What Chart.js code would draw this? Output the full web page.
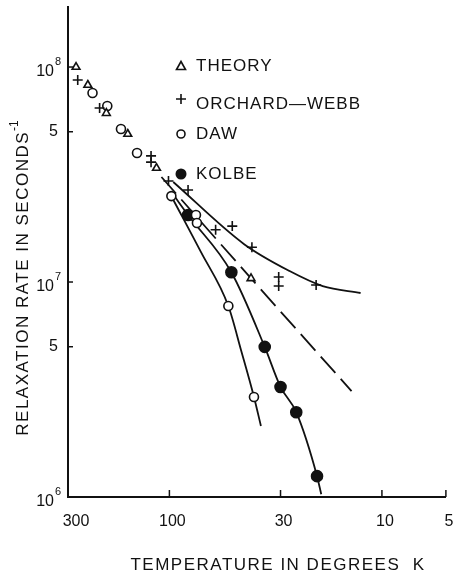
<!DOCTYPE html>
<html>
<head>
<meta charset="utf-8">
<script src="https://cdn.jsdelivr.net/npm/chart.js@4.4.1/dist/chart.umd.min.js"></script>
<style>
  body { margin: 0; background: #fff; }
  canvas { display: block; }
</style>
</head>
<body>
<canvas id="myChart" width="453" height="577"></canvas>
<script>
// values (temperature in K, rate in s^-1)
const theoryT = [275, 242, 198, 157, 115, 41.3];
const theoryRate = [1.0e8, 8.25e7, 6.1e7, 4.88e7, 3.39e7, 1.04e7];
const theoryLineT = [109, 41.3, 13.9];
const theoryLineRate = [3.08e7, 1.04e7, 3.11e6];

const owT = [270, 213, 122, 122, 101, 81.7, 60.6, 50.6, 40.9, 30.6, 30.6, 20.4];
const owRate = [8.7e7, 6.45e7, 3.86e7, 3.61e7, 2.95e7, 2.68e7, 1.75e7, 1.82e7, 1.45e7, 1.055e7, 9.58e6, 9.68e6];
const owCurveT = [95.9, 44.5, 27.2, 19.0, 12.6];
const owCurveRate = [2.92e7, 1.50e7, 1.125e7, 9.58e6, 8.89e6];

const dawT = [230, 196, 169, 142, 97.9, 75.0, 74.2, 52.8, 40.0];
const dawRate = [7.57e7, 6.59e7, 5.15e7, 3.98e7, 2.51e7, 2.05e7, 1.88e7, 7.73e6, 2.92e6];
const dawCurveT = [96.9, 71.1, 52.8, 45.9, 40.0, 37.1];
const dawCurveRate = [2.46e7, 1.38e7, 7.73e6, 4.78e6, 2.92e6, 2.14e6];

const kolbeT = [81.7, 51.1, 35.6, 30.0, 25.3, 20.2];
const kolbeRate = [2.05e7, 1.11e7, 4.99e6, 3.25e6, 2.48e6, 1.25e6];
const kolbeCurveT = [94.8, 81.7, 51.1, 35.6, 30.0, 25.3, 20.2, 19.3];
const kolbeCurveRate = [2.51e7, 2.05e7, 1.11e7, 4.99e6, 3.25e6, 2.48e6, 1.25e6, 1.03e6];

const xTicks = [300, 100, 30, 10, 5];
const yTicks = [1e6, 5e6, 1e7, 5e7, 1e8];
const yTickBase = ["10", "5", "10", "5", "10"];
const yTickExp = ["6", "", "7", "", "8"];

const legendLabels = ["THEORY", "ORCHARD\u2014WEBB", "DAW", "KOLBE"];

const INK = "#111";
const FONT = "'Liberation Sans', Arial, sans-serif";

const pts = (xs, ys) => xs.map((v, i) => ({ x: v, y: ys[i] }));

function drawMarker(ctx, kind, x, y) {
  ctx.save();
  ctx.strokeStyle = INK;
  ctx.lineWidth = 1.6;
  ctx.beginPath();
  if (kind === "triangle") {
    ctx.moveTo(x, y - 4.5);
    ctx.lineTo(x + 4.5, y + 3.5);
    ctx.lineTo(x - 4.5, y + 3.5);
    ctx.closePath();
    ctx.fillStyle = "#fff";
    ctx.fill();
    ctx.stroke();
  } else if (kind === "cross") {
    ctx.moveTo(x - 5, y); ctx.lineTo(x + 5, y);
    ctx.moveTo(x, y - 5); ctx.lineTo(x, y + 5);
    ctx.stroke();
  } else if (kind === "open") {
    ctx.arc(x, y, 4, 0, Math.PI * 2);
    ctx.fillStyle = "#fff";
    ctx.fill();
    ctx.stroke();
  } else {
    ctx.arc(x, y, 5.5, 0, Math.PI * 2);
    ctx.fillStyle = INK;
    ctx.fill();
  }
  ctx.restore();
}

const figureText = {
  id: "figureText",
  afterDraw(chart) {
    const { ctx, chartArea, scales: { x, y } } = chart;
    ctx.save();
    ctx.strokeStyle = INK;
    ctx.fillStyle = INK;
    ctx.lineWidth = 1.5;

    // inward tick marks
    xTicks.forEach(v => {
      if (v === 300) return;
      const px = x.getPixelForValue(v);
      ctx.beginPath();
      ctx.moveTo(px, chartArea.bottom);
      ctx.lineTo(px, chartArea.bottom - 7);
      ctx.stroke();
    });
    yTicks.forEach(v => {
      if (v === 1e6) return;
      const py = y.getPixelForValue(v);
      ctx.beginPath();
      ctx.moveTo(chartArea.left, py);
      ctx.lineTo(chartArea.left + 5, py);
      ctx.stroke();
    });

    // x tick labels
    ctx.font = "16px " + FONT;
    ctx.textAlign = "center";
    ctx.textBaseline = "middle";
    xTicks.forEach(v => {
      const px = x.getPixelForValue(v);
      ctx.fillText(String(v), px + (v === 300 ? 8 : 3), chartArea.bottom + 25);
    });

    // y tick labels with superscripts
    yTicks.forEach((v, i) => {
      const py = y.getPixelForValue(v);
      if (yTickExp[i]) {
        ctx.font = "16px " + FONT;
        ctx.textAlign = "right";
        ctx.fillText(yTickBase[i], 54, py + 5);
        ctx.font = "11px " + FONT;
        ctx.textAlign = "left";
        ctx.fillText(yTickExp[i], 55, py - 5);
      } else {
        ctx.font = "16px " + FONT;
        ctx.textAlign = "right";
        ctx.fillText(yTickBase[i], 58, py);
      }
    });

    // axis titles
    ctx.font = "17px " + FONT;
    ctx.letterSpacing = "1.5px";
    ctx.textAlign = "center";
    ctx.fillText("TEMPERATURE IN DEGREES  K", 278, 565);

    ctx.save();
    ctx.translate(23, 278);
    ctx.rotate(-Math.PI / 2);
    ctx.textAlign = "left";
    const main = "RELAXATION RATE IN SECONDS";
    const wMain = ctx.measureText(main).width;
    ctx.font = "12px " + FONT;
    ctx.letterSpacing = "0px";
    const sup = "-1";
    const wSup = ctx.measureText(sup).width;
    const start = -(wMain + wSup) / 2;
    ctx.font = "17px " + FONT;
    ctx.letterSpacing = "1.5px";
    ctx.fillText(main, start, 0);
    ctx.font = "12px " + FONT;
    ctx.letterSpacing = "0px";
    ctx.fillText(sup, start + wMain, -8);
    ctx.restore();

    // legend
    const kinds = ["triangle", "cross", "open", "filled"];
    const markY = [66, 99, 134, 174];
    const textY = [66, 104, 134, 174];
    ctx.font = "17px " + FONT;
    ctx.letterSpacing = "1px";
    ctx.textAlign = "left";
    legendLabels.forEach((lab, i) => {
      drawMarker(ctx, kinds[i], 181, markY[i]);
      ctx.fillText(lab, 196, textY[i]);
    });
    ctx.restore();
  }
};

const curve = (data, dash) => ({
  data,
  showLine: true,
  borderColor: INK,
  borderWidth: 1.8,
  borderDash: dash || [],
  pointRadius: 0,
  cubicInterpolationMode: "monotone",
  order: 2
});

const marks = (data, style, fill, radius) => ({
  data,
  pointStyle: style,
  pointRadius: radius,
  pointBackgroundColor: fill,
  pointBorderColor: INK,
  pointBorderWidth: 1.6,
  order: 1
});

const ctx = document.getElementById("myChart").getContext("2d");

new Chart(ctx, {
  type: "scatter",
  data: {
    datasets: [
      marks(pts(theoryT, theoryRate), "triangle", "#fff", 4.5),
      marks(pts(owT, owRate), "cross", "#fff", 5),
      marks(pts(dawT, dawRate), "circle", "#fff", 4.5),
      marks(pts(kolbeT, kolbeRate), "circle", INK, 5.5),
      curve(pts(theoryLineT, theoryLineRate), [22, 8]),
      curve(pts(owCurveT, owCurveRate)),
      curve(pts(dawCurveT, dawCurveRate)),
      curve(pts(kolbeCurveT, kolbeCurveRate))
    ]
  },
  options: {
    responsive: false,
    animation: false,
    layout: { padding: { left: 68, right: 1, top: 7, bottom: 80 } },
    plugins: {
      legend: { display: false },
      tooltip: { enabled: false }
    },
    scales: {
      x: {
        type: "logarithmic",
        reverse: true,
        min: 5,
        max: 300,
        grid: { display: false, drawTicks: false },
        ticks: { display: false },
        border: { color: INK, width: 2 }
      },
      y: {
        type: "logarithmic",
        min: 1e6,
        max: 1.9e8,
        grid: { display: false, drawTicks: false },
        ticks: { display: false },
        border: { color: INK, width: 2 }
      }
    }
  },
  plugins: [figureText]
});
</script>
</body>
</html>
